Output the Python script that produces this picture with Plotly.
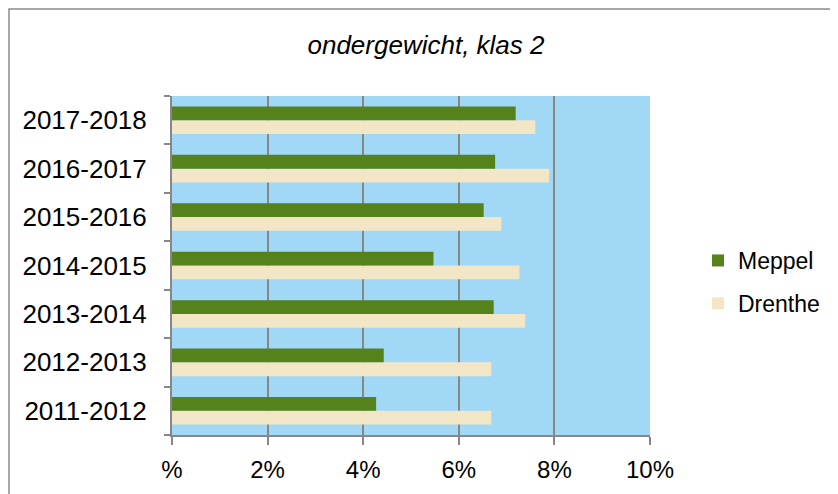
import plotly.graph_objects as go

categories = ["2011-2012", "2012-2013", "2013-2014", "2014-2015", "2015-2016", "2016-2017", "2017-2018"]
meppel = [4.27, 4.43, 6.73, 5.47, 6.52, 6.76, 7.19]
drenthe = [6.68, 6.68, 7.39, 7.27, 6.89, 7.89, 7.60]
x_tickvals = [0, 2, 4, 6, 8, 10]
x_ticktext = ["%", "2%", "4%", "6%", "8%", "10%"]
title_text = "ondergewicht, klas 2"

# page has an 8px body margin; positions below are page pixels
OFF = 8
W, H = 838 - OFF, 494 - OFF
L, R, T, B = 172, 650, 96, 435

fig = go.Figure()
fig.add_trace(go.Bar(
    y=categories, x=drenthe, orientation="h", name="Drenthe",
    marker=dict(color="#F2E6C6", line=dict(width=0)),
    legendgroup="d", legendrank=2,
))
fig.add_trace(go.Bar(
    y=categories, x=meppel, orientation="h", name="Meppel",
    marker=dict(color="#55821A", line=dict(width=0)),
    legendgroup="m", legendrank=1,
))

def px_x(p):
    return (p - L) / (R - L)

def px_y(q):
    return (B - q) / (B - T)

fig.add_shape(type="rect", xref="paper", yref="paper",
              x0=px_x(OFF + 1), x1=px_x(860), y0=px_y(520), y1=px_y(OFF + 1),
              line=dict(color="#8a8a8a", width=1.5), fillcolor="rgba(0,0,0,0)", layer="below")

fig.update_layout(
    width=W, height=H,
    margin=dict(l=L - OFF, r=W - (R - OFF), t=T - OFF, b=H - (B - OFF), pad=0),
    paper_bgcolor="white",
    plot_bgcolor="#A1D8F6",
    barmode="group",
    bargap=0.43,
    bargroupgap=0,
    font=dict(family="Liberation Sans, Arial, sans-serif", color="black"),
    title=dict(text=title_text, x=(426 - OFF) / W, xref="container",
               xanchor="center", y=1 - (45 - OFF) / H, yanchor="middle",
               font=dict(family="Liberation Sans, Arial, sans-serif", size=26, style="italic", color="black")),
    legend=dict(x=px_x(698), xanchor="left", y=px_y(282), yanchor="middle",
                font=dict(size=23), tracegroupgap=10, bgcolor="rgba(0,0,0,0)",
                itemwidth=30),
    showlegend=True,
)
fig.update_xaxes(
    range=[0, 10], tickvals=x_tickvals, ticktext=x_ticktext,
    showgrid=True, gridcolor="#878787", gridwidth=2,
    showline=True, linecolor="#878787", linewidth=2,
    ticks="outside", ticklen=8, tickwidth=2, tickcolor="#878787",
    ticklabelstandoff=4,
    tickfont=dict(size=24),
    zeroline=False, fixedrange=True,
)
fig.update_yaxes(
    type="category", categoryorder="array", categoryarray=categories,
    showgrid=False, showline=True, linecolor="#878787", linewidth=2,
    ticks="outside", ticklen=6, tickwidth=2, tickcolor="#878787",
    tickson="boundaries", ticklabelstandoff=18,
    tickfont=dict(size=26),
    fixedrange=True,
)

fig.write_html("out.html")
